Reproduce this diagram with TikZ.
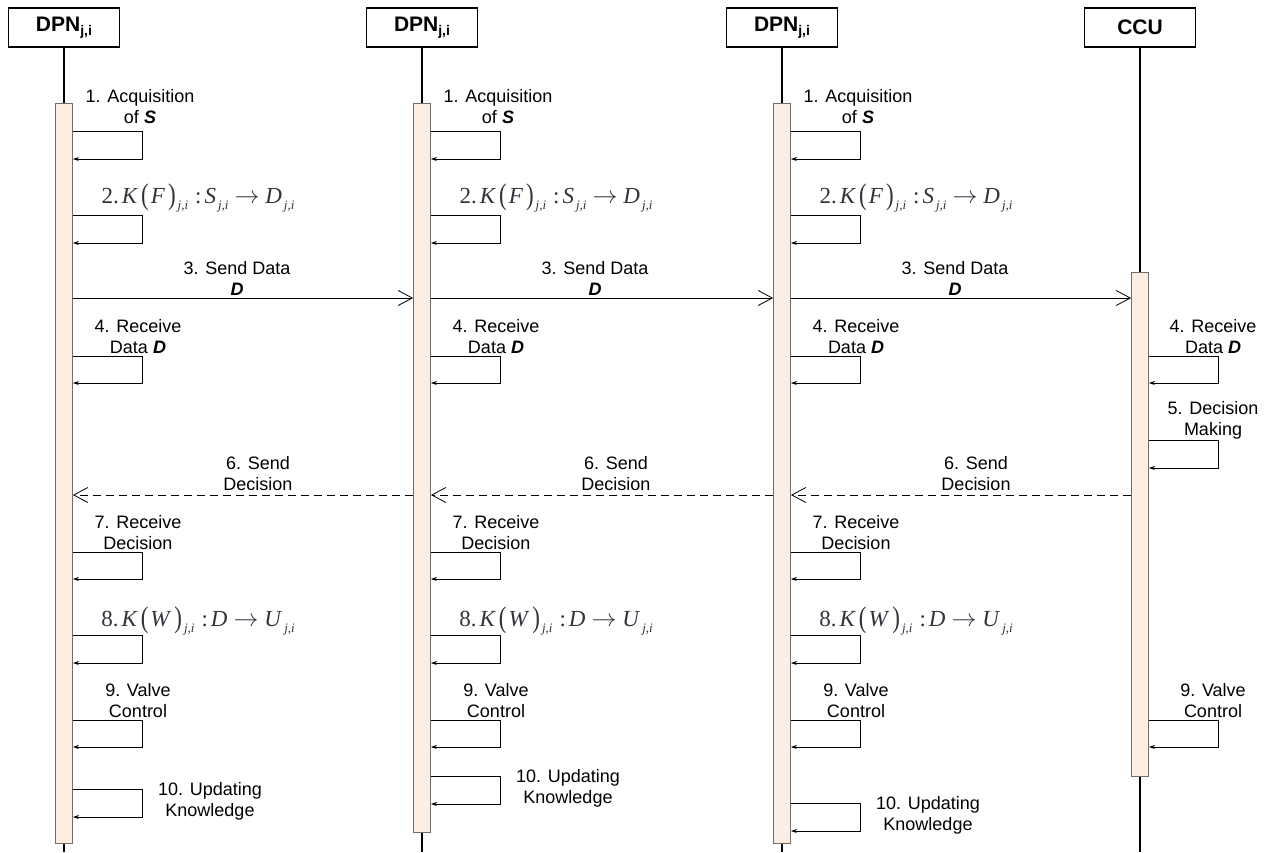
\documentclass[tikz,border=0pt]{standalone}
\usepackage{fontspec}
\usepackage{graphicx}
\setmainfont{Liberation Sans}
\newfontfamily\tms{Liberation Serif}
\usetikzlibrary{arrows.meta,calc}
\definecolor{barfill}{HTML}{FCEEE2}
\definecolor{bardraw}{HTML}{6E6E6E}
\definecolor{mathgray}{HTML}{33333F}
\newcommand\mySelfLoop[3]{\draw[selfmsg] (#1.east |- 0,#2) -- ++(69.5,0) |- (#1.east |- 0,#3);}
\newcommand\dpnsub{DPN\raisebox{-0.35ex}{\fontsize{14}{14}\selectfont j,i}}
\newcommand\msub[1]{\hspace{2pt}\raisebox{-0.6ex}{\fontsize{13}{13}\selectfont\itshape #1}}
\newcommand\lpar{\hspace{3pt}\raisebox{-0.15ex}{\scalebox{1}[1.3]{(}}\hspace{2pt}}
\newcommand\rpar{\hspace{3pt}\raisebox{-0.15ex}{\scalebox{1}[1.3]{)}}}
\newcommand\marrow{\hspace{6pt}$\rightarrow$\hspace{6pt}}
\newcommand\mcolon{\hspace{7pt}:\hspace{3pt}}
\tikzset{
 head/.style={draw, line width=1.1pt, minimum width=111pt, minimum height=39pt, inner sep=0pt, font=\fontsize{21}{24}\selectfont\bfseries},
 lifeline/.style={line width=1.1pt},
 actbar/.style={draw=bardraw, fill=barfill, line width=0.9pt, minimum width=17pt, inner sep=0pt, anchor=north},
 lbl/.style={align=center, inner sep=0pt, font=\fontsize{18}{21}\selectfont},
 mlbl/.style={inner sep=0pt, text=mathgray, font=\tms\fontsize{23}{24}\selectfont},
 selfmsg/.style={line width=0.8pt, -{Stealth[length=6pt,width=4pt]}},
 msg/.style={line width=0.8pt, -{Straight Barb[length=14pt,width=15pt,line width=0.8pt]}},
 reply/.style={msg, dash pattern=on 8pt off 5pt},
}
\begin{document}
\begin{tikzpicture}[x=1pt,y=-1pt]
\useasboundingbox (0,0) rectangle (1271,852);
% DPN lifelines
\foreach \i/\L/\bb/\ut in {1/64/843/789, 2/422/832/776, 3/782/843/803} {
  \pgfmathsetmacro\bh{\bb-103}
  \node[head] (h\i) at (\L,27.5) {\dpnsub};
  \draw[lifeline] (h\i.south) -- (h\i.south |- 0,852);
  \node[actbar, minimum height=\bh pt] (b\i) at (\L,103) {};
  \node[lbl] (a1\i) at (\L+76,107) {1. Acquisition\\of \textbf{\textit{S}}};
  \mySelfLoop{b\i}{131}{159}
  \node[mlbl] (a2\i) at (\L+134,198) {2.\hspace{3pt}\textit{K}\lpar\textit{F}\rpar\msub{j,i}\mcolon\textit{S}\msub{j,i}\marrow\textit{D}\msub{j,i}};
  \mySelfLoop{b\i}{215}{243}
  \node[lbl] (a4\i) at (\L+74,337) {4. Receive\\Data \textbf{\textit{D}}};
  \mySelfLoop{b\i}{356}{383}
  \node[lbl] (a7\i) at (\L+74,533) {7. Receive\\Decision};
  \mySelfLoop{b\i}{552}{579}
  \node[mlbl] (a8\i) at (\L+134,621) {8.\hspace{3pt}\textit{K}\lpar\textit{W}\rpar\msub{j,i}\mcolon\textit{D}\marrow\textit{U}\msub{j,i}};
  \mySelfLoop{b\i}{635}{663}
  \node[lbl] (a9\i) at (\L+74,700.5) {9. Valve\\Control};
  \mySelfLoop{b\i}{720}{747}
  \node[lbl] (a10\i) at (\L+146,\ut+12.5) {10. Updating\\Knowledge};
  \mySelfLoop{b\i}{\ut}{\ut+28}
}
% CCU lifeline
\node[head] (h4) at (1140,27.5) {CCU};
\draw[lifeline] (h4.south) -- (h4.south |- 0,852);
\node[actbar, minimum height=504pt] (b4) at (1140,272) {};
\node[lbl] (c4) at (1213,337) {4. Receive\\Data \textbf{\textit{D}}};
\mySelfLoop{b4}{356}{383}
\node[lbl] (c5) at (1213,420.5) {5. Decision\\Making};
\mySelfLoop{b4}{440}{468}
\node[lbl] (c9) at (1213,700.5) {9. Valve\\Control};
\mySelfLoop{b4}{720}{747}
% messages
\foreach \s/\t/\L in {1/2/64, 2/3/422, 3/4/782} {
  \draw[msg] (b\s.east |- 0,298) -- (b\t.west |- 0,298);
  \node[lbl] (m3\s) at (\L+173,278.5) {3. Send Data\\\textbf{\textit{D}}};
  \draw[reply] (b\t.west |- 0,495) -- (b\s.east |- 0,495);
  \node[lbl] (m6\s) at (\L+194,474) {6. Send\\Decision};
}
\end{tikzpicture}
\end{document}
